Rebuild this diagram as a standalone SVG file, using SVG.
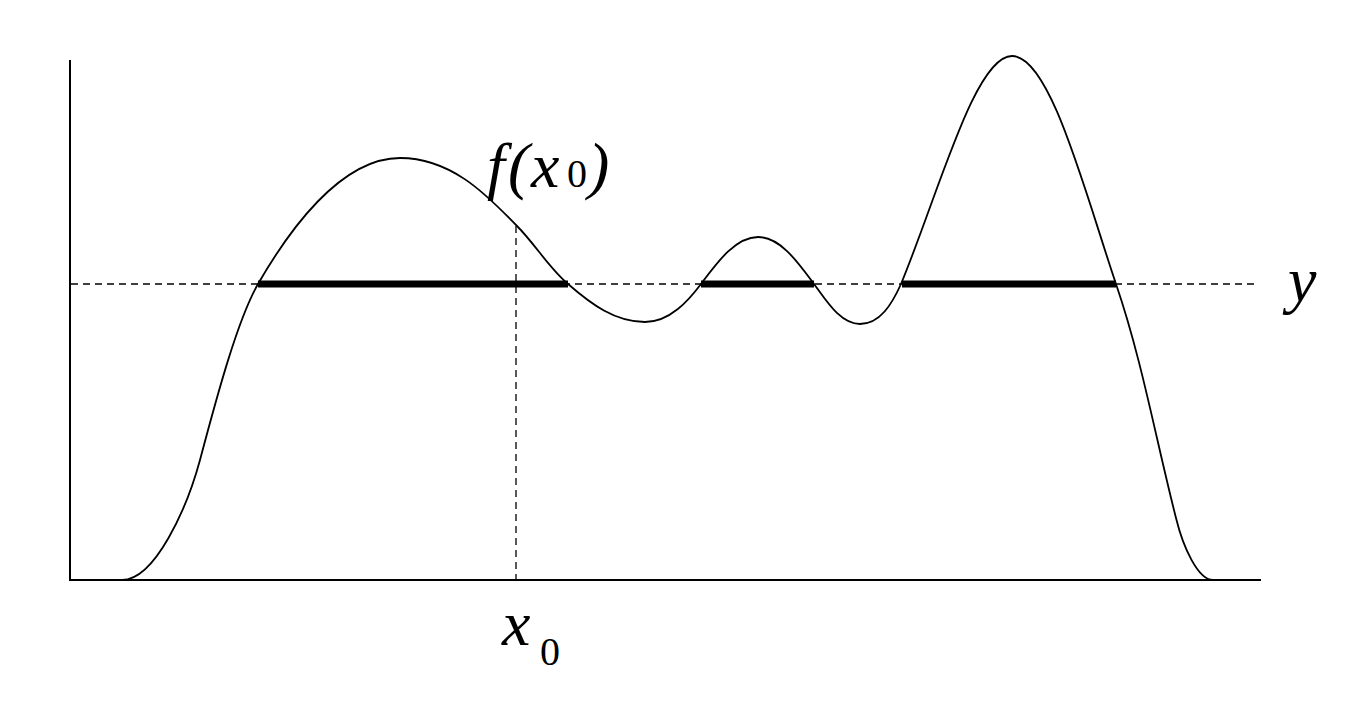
<svg xmlns="http://www.w3.org/2000/svg" width="1354" height="712" viewBox="0 0 1354 712">
<style>
.axis{stroke:#000;stroke-width:2;fill:none}
.dash{stroke:#000;stroke-width:1.3;stroke-dasharray:7 5;fill:none}
.curve{stroke:#000;stroke-width:1.8;fill:none;stroke-linejoin:round}
.seg{stroke:#000;stroke-width:7;fill:none}
.lbl{font-family:"Liberation Serif","Times New Roman",serif;font-style:italic;font-size:64px;fill:#000}
.sub{font-style:normal;font-size:40px}
</style>
<rect width="1354" height="712" fill="#fff"/>
<g id="axes">
<line class="axis" x1="70" y1="60" x2="70" y2="581"/>
<line class="axis" x1="69" y1="580" x2="1261" y2="580"/>
</g>
<g id="guides">
<line class="dash" x1="71" y1="284" x2="1255" y2="284"/>
<line class="dash" x1="516" y1="226" x2="516" y2="579"/>
</g>
<g id="curve">
<path class="curve" d="M90,580 L122,580 C155,580 187,508 200,460 C218,392 238,319 258,284 C288,232 340,158 400,158 C455,158 492,201 517,226 C535,244 549,268 568,284 C591,304 615,322 645,322 C670,322 689,300 701,284 C716,264 735,237 758,237 C781,237 799,264 814,284 C826,300 840,324 860,324 C880,324 892,304 901,284 C939,192 975,56 1012,56 C1050,56 1084,189 1116,284 C1142,360 1156,440 1176,518 C1183,547 1198,580 1213,580 L1243,580"/>
</g>
<g id="intervals">
<line class="seg" x1="258" y1="284" x2="568" y2="284"/>
<line class="seg" x1="701" y1="284" x2="814" y2="284"/>
<line class="seg" x1="902" y1="284" x2="1116" y2="284"/>
</g>
<g id="labels">
<text class="lbl" y="187"><tspan x="487">f</tspan><tspan x="508">(</tspan><tspan x="531">x</tspan><tspan class="sub" x="567">0</tspan><tspan x="588">)</tspan></text>
<text class="lbl" y="645"><tspan x="502">x</tspan><tspan class="sub" x="540" y="665">0</tspan></text>
<text class="lbl" x="1288" y="301">y</text>
</g>
</svg>
